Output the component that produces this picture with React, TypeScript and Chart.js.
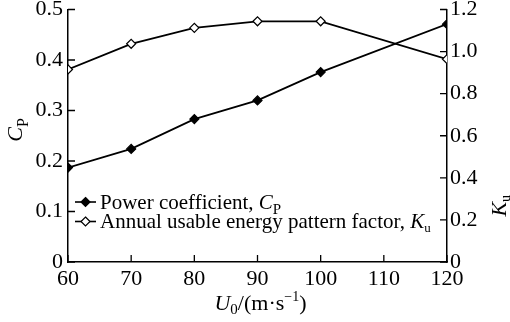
import React, { useEffect, useRef } from 'react';
import { Chart, registerables } from 'chart.js';

Chart.register(...registerables);

// ---- Data ----
const windSpeeds = [60, 70, 80, 90, 100, 120];
const powerCoefficient = [0.187, 0.224, 0.283, 0.32, 0.376, 0.471];
const energyPatternFactor = [0.915, 1.037, 1.113, 1.144, 1.144, 0.964];

const xRange = [60, 120];
const xStep = 10;
const cpRange = [0, 0.5];
const cpStep = 0.1;
const kuRange = [0, 1.2];
const kuStep = 0.2;

const cpLegend = 'Power coefficient, ';
const kuLegend = 'Annual usable energy pattern factor, ';

const FONT = '"Liberation Serif", "Times New Roman", Times, serif';

function fmt(v: number) {
  return v === 0 ? '0' : v.toFixed(1);
}

type Part = { t: string; size: number; italic?: boolean; dy?: number };

function drawSubText(ctx: CanvasRenderingContext2D, x: number, y: number, parts: Part[]) {
  let cx = x;
  for (const p of parts) {
    ctx.font = `${p.italic ? 'italic ' : ''}${p.size}px ${FONT}`;
    ctx.fillText(p.t, cx, y + (p.dy || 0));
    cx += ctx.measureText(p.t).width;
  }
  return cx - x;
}

function measureParts(ctx: CanvasRenderingContext2D, parts: Part[]) {
  let w = 0;
  for (const p of parts) {
    ctx.font = `${p.italic ? 'italic ' : ''}${p.size}px ${FONT}`;
    w += ctx.measureText(p.t).width;
  }
  return w;
}

const decorPlugin = {
  id: 'decor',
  afterDraw(chart: any) {
    const ctx: CanvasRenderingContext2D = chart.ctx;
    const { left, right, top, bottom } = chart.chartArea;
    const xs = chart.scales.x;
    const yl = chart.scales.y;
    const yr = chart.scales.y1;
    const tl = 7;
    ctx.save();
    ctx.strokeStyle = '#000';
    ctx.lineWidth = 1.3;
    ctx.beginPath();
    xs.ticks.forEach((t: any) => {
      const px = xs.getPixelForValue(t.value);
      ctx.moveTo(px, bottom);
      ctx.lineTo(px, bottom - tl);
    });
    yl.ticks.forEach((t: any) => {
      const py = yl.getPixelForValue(t.value);
      ctx.moveTo(left, py);
      ctx.lineTo(left + tl, py);
    });
    yr.ticks.forEach((t: any) => {
      const py = yr.getPixelForValue(t.value);
      ctx.moveTo(right, py);
      ctx.lineTo(right - tl, py);
    });
    ctx.stroke();

    ctx.fillStyle = '#000';
    ctx.textBaseline = 'alphabetic';
    ctx.textAlign = 'left';

    // Left axis title C_P (rotated)
    const cpParts: Part[] = [
      { t: 'C', size: 22, italic: true },
      { t: 'P', size: 16, dy: 6 },
    ];
    ctx.save();
    const cpW = measureParts(ctx, cpParts);
    ctx.translate(22, 130);
    ctx.rotate(-Math.PI / 2);
    drawSubText(ctx, -cpW / 2, 0, cpParts);
    ctx.restore();

    // Right axis title K_u (rotated)
    const kuParts: Part[] = [
      { t: 'K', size: 22, italic: true },
      { t: 'u', size: 14, dy: 4 },
    ];
    ctx.save();
    const kuW = measureParts(ctx, kuParts);
    ctx.translate(506, (top + bottom) / 2 + 70);
    ctx.rotate(-Math.PI / 2);
    drawSubText(ctx, -kuW / 2, 0, kuParts);
    ctx.restore();

    // X axis title U_0/(m·s^-1)
    const xParts: Part[] = [
      { t: 'U', size: 22, italic: true },
      { t: '0', size: 15, dy: 4 },
      { t: '/(m·s', size: 22 },
      { t: '−1', size: 14, dy: -9 },
      { t: ')', size: 22 },
    ];
    const xW = measureParts(ctx, xParts);
    drawSubText(ctx, (left + right) / 2 - xW / 2 + 3, 310, xParts);

    // Legend
    const rows: { y: number; filled: boolean; parts: Part[] }[] = [
      { y: 202, filled: true, parts: [{ t: cpLegend, size: 21 }, { t: 'C', size: 21, italic: true }, { t: 'P', size: 15, dy: 5 }] },
      { y: 221.5, filled: false, parts: [{ t: kuLegend, size: 21 }, { t: 'K', size: 21, italic: true }, { t: 'u', size: 13, dy: 4 }] },
    ];
    rows.forEach((r) => {
      ctx.beginPath();
      ctx.lineWidth = 1.6;
      ctx.moveTo(75, r.y);
      ctx.lineTo(96, r.y);
      ctx.stroke();
      const cx = 85.5;
      const rad = 4.5;
      ctx.beginPath();
      ctx.moveTo(cx, r.y - rad);
      ctx.lineTo(cx + rad, r.y);
      ctx.lineTo(cx, r.y + rad);
      ctx.lineTo(cx - rad, r.y);
      ctx.closePath();
      ctx.fillStyle = r.filled ? '#000' : '#fff';
      ctx.fill();
      ctx.lineWidth = 1.2;
      ctx.stroke();
      ctx.fillStyle = '#000';
      drawSubText(ctx, 100, r.y + 6.5, r.parts);
    });
    ctx.restore();
  },
};

export default function App() {
  const ref = useRef<HTMLCanvasElement>(null);
  useEffect(() => {
    document.body.style.margin = '0';
    const canvas = ref.current!;
    const chart = new Chart(canvas, {
      type: 'line',
      data: {
        datasets: [
          {
            label: 'Power coefficient, CP',
            data: windSpeeds.map((x, i) => ({ x, y: powerCoefficient[i] })),
            yAxisID: 'y',
            borderColor: '#000',
            backgroundColor: '#000',
            borderWidth: 1.8,
            pointStyle: 'rectRot',
            pointRadius: 4.5,
            pointBorderWidth: 1.2,
            pointBackgroundColor: '#000',
            pointBorderColor: '#000',
            tension: 0,
          },
          {
            label: 'Annual usable energy pattern factor, Ku',
            data: windSpeeds.map((x, i) => ({ x, y: energyPatternFactor[i] })),
            yAxisID: 'y1',
            borderColor: '#000',
            backgroundColor: '#fff',
            borderWidth: 1.8,
            pointStyle: 'rectRot',
            pointRadius: 4.5,
            pointBorderWidth: 1.2,
            pointBackgroundColor: '#fff',
            pointBorderColor: '#000',
            tension: 0,
          },
        ],
      },
      options: {
        animation: false,
        responsive: false,
        maintainAspectRatio: false,
        devicePixelRatio: 1,
        layout: { padding: { top: 9.5, left: 0, right: 0, bottom: 0 } },
        plugins: { legend: { display: false }, tooltip: { enabled: false } },
        scales: {
          x: {
            type: 'linear',
            min: xRange[0],
            max: xRange[1],
            grid: { display: false, drawTicks: false },
            border: { display: true, color: '#000', width: 1.5 },
            ticks: {
              stepSize: xStep,
              color: '#000',
              font: { family: FONT, size: 22 },
              padding: 4,
              maxRotation: 0,
            },
            afterFit: (s: any) => {
              s.height = 60;
              s.paddingLeft = 0;
              s.paddingRight = 0;
            },
          },
          y: {
            type: 'linear',
            position: 'left',
            min: cpRange[0],
            max: cpRange[1],
            grid: { display: false, drawTicks: false },
            border: { display: true, color: '#000', width: 1.5 },
            ticks: {
              stepSize: cpStep,
              color: '#000',
              font: { family: FONT, size: 22 },
              padding: 5,
              callback: (v: any) => fmt(Number(v)),
            },
            afterFit: (s: any) => {
              s.width = 68;
              s.paddingTop = 0;
              s.paddingBottom = 0;
            },
          },
          y1: {
            type: 'linear',
            position: 'right',
            min: kuRange[0],
            max: kuRange[1],
            grid: { display: false, drawTicks: false },
            border: { display: true, color: '#000', width: 1.5 },
            ticks: {
              stepSize: kuStep,
              color: '#000',
              font: { family: FONT, size: 22 },
              padding: 3,
              callback: (v: any) => fmt(Number(v)),
            },
            afterFit: (s: any) => {
              s.width = 63;
              s.paddingTop = 0;
              s.paddingBottom = 0;
            },
          },
        },
      },
      plugins: [decorPlugin],
    } as any);
    return () => chart.destroy();
  }, []);
  return (
    <div style={{ width: 510, height: 322, background: '#fff' }}>
      <canvas ref={ref} width={510} height={322} style={{ display: 'block' }} />
    </div>
  );
}
